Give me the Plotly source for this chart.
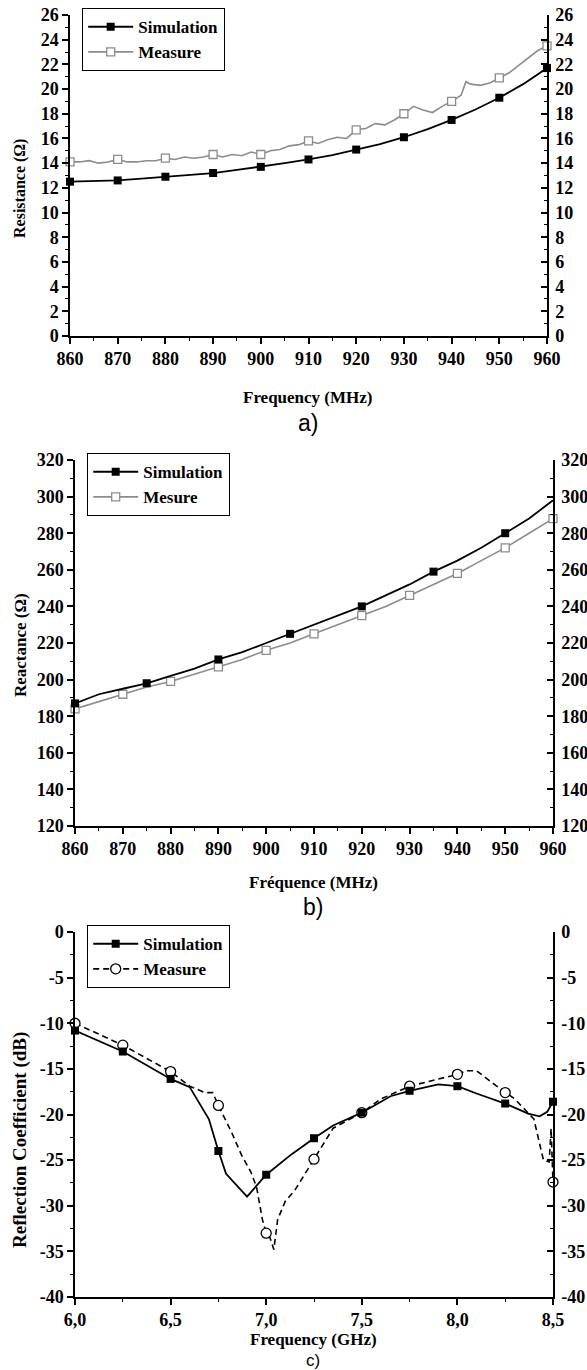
import plotly.graph_objects as go

W, H = 587, 1370

# ---------------- Panel a : Resistance ----------------
res_line_freq = [860, 865, 870, 875, 880, 885, 890, 895, 900, 905, 910, 915, 920,
                 925, 930, 935, 940, 945, 950, 955, 960]
res_sim_line = [12.5, 12.55, 12.6, 12.75, 12.9, 13.05, 13.2, 13.45, 13.7, 14.0, 14.3,
                14.65, 15.1, 15.55, 16.1, 16.75, 17.5, 18.35, 19.3, 20.4, 21.7]
res_mark_freq = [860, 870, 880, 890, 900, 910, 920, 930, 940, 950, 960]
res_sim_mark = [12.5, 12.6, 12.9, 13.2, 13.7, 14.3, 15.1, 16.1, 17.5, 19.3, 21.7]
res_meas_freq = [860, 862, 864, 866, 868, 870, 872, 874, 876, 878, 880, 882, 884, 886,
                 888, 890, 892, 894, 896, 898, 900, 902, 904, 906, 908, 910, 912, 914,
                 916, 918, 920, 922, 924, 926, 928, 930, 932, 934, 936, 938, 940, 942,
                 943, 944, 946, 948, 950, 952, 954, 956, 958, 960]
res_meas_line = [14.1, 14.1, 14.2, 14.0, 14.1, 14.3, 14.1, 14.1, 14.2, 14.2, 14.4, 14.3,
                 14.5, 14.4, 14.5, 14.7, 14.5, 14.7, 14.6, 14.9, 14.7, 15.0, 15.1, 15.4,
                 15.5, 15.8, 15.6, 15.9, 16.1, 16.0, 16.7, 16.8, 17.2, 17.1, 17.5, 18.0,
                 18.6, 18.3, 18.1, 18.6, 19.0, 19.5, 20.6, 20.4, 20.3, 20.5, 20.9, 21.3,
                 21.9, 22.5, 23.1, 23.5]
res_meas_mark = [14.1, 14.3, 14.4, 14.7, 14.7, 15.8, 16.7, 18.0, 19.0, 20.9, 23.5]

# ---------------- Panel b : Reactance ----------------
rea_line_freq = [860, 865, 870, 875, 880, 885, 890, 895, 900, 905, 910, 915, 920,
                 925, 930, 935, 940, 945, 950, 955, 960]
rea_sim_line = [187, 192, 195, 198, 202, 206, 211, 215, 220, 225, 230, 235, 240,
                246, 252, 259, 265, 272, 280, 288, 298]
rea_sim_mark_freq = [860, 875, 890, 905, 920, 935, 950]
rea_sim_mark = [187, 198, 211, 225, 240, 259, 280]
rea_meas_line = [184, 188, 192, 196, 199, 203, 207, 211, 216, 220, 225, 230, 235,
                 240, 246, 252, 258, 265, 272, 280, 288]
rea_meas_mark_freq = [860, 870, 880, 890, 900, 910, 920, 930, 940, 950, 960]
rea_meas_mark = [184, 192, 199, 207, 216, 225, 235, 246, 258, 272, 288]

# ---------------- Panel c : Reflection coefficient ----------------
s11_sim_freq = [6.0, 6.25, 6.5, 6.6, 6.7, 6.75, 6.79, 6.9, 7.0, 7.13, 7.25, 7.35, 7.5,
                7.65, 7.75, 7.9, 8.0, 8.1, 8.25, 8.37, 8.43, 8.47, 8.5]
s11_sim_line = [-10.8, -13.1, -16.1, -17.0, -20.5, -24.0, -26.5, -29.0, -26.6, -24.4,
                -22.6, -21.2, -19.8, -18.0, -17.4, -16.7, -16.9, -17.7, -18.8, -19.9,
                -20.2, -19.7, -18.6]
s11_mark_freq = [6.0, 6.25, 6.5, 6.75, 7.0, 7.25, 7.5, 7.75, 8.0, 8.25, 8.5]
s11_sim_mark = [-10.8, -13.1, -16.1, -24.0, -26.6, -22.6, -19.8, -17.4, -16.9, -18.8, -18.6]
s11_meas_freq = [6.0, 6.25, 6.5, 6.6, 6.68, 6.72, 6.75, 6.82, 6.87, 6.92, 6.95, 6.98,
                 7.0, 7.02, 7.04, 7.06, 7.1, 7.15, 7.25, 7.35, 7.5, 7.6, 7.75, 7.95,
                 8.0, 8.05, 8.1, 8.2, 8.25, 8.3, 8.4, 8.45, 8.48, 8.49, 8.5]
s11_meas_line = [-10.0, -12.4, -15.3, -16.9, -17.6, -17.6, -19.0, -22.0, -24.4, -26.3,
                 -28.0, -31.5, -33.0, -33.5, -34.8, -31.5, -29.5, -28.3, -24.9, -21.5,
                 -19.8, -18.3, -16.9, -15.8, -15.6, -15.2, -15.2, -16.8, -17.6, -18.3,
                 -20.5, -25.0, -25.2, -21.5, -27.4]
s11_meas_mark = [-10.0, -12.4, -15.3, -19.0, -33.0, -24.9, -19.8, -16.9, -15.6, -17.6, -27.4]
s11_ytick_vals = [-40, -35, -30, -25, -20, -15, -10, -5, 0]
s11_ytick_text = ["-40", "-35", "-30", "-25", "-20", "-15", "-10", "-5", "0"]

GRAY = "#8c8c8c"
FONT = "Liberation Serif"


def xd(a, b):
    return [a / W, b / W]


def yd(top, bottom):
    return [1 - bottom / H, 1 - top / H]


fig = go.Figure()


def add_panel(n, xs_line1, y_line1, xs_m1, y_m1, xs_line2, y_line2, xs_m2, y_m2,
              meas_color, meas_symbol, meas_dash, meas_label, meas_msize):
    xa = "x" if n == 1 else f"x{n}"
    ya = "y" if n == 1 else f"y{2 * n - 1}"
    yr = f"y{2 * n}"
    leg = "legend" if n == 1 else f"legend{n}"
    # keep the right-hand mirror axis alive
    fig.add_trace(go.Scatter(x=[None], y=[None], mode="lines", xaxis=xa, yaxis=yr,
                             showlegend=False, hoverinfo="skip"))
    # measure
    fig.add_trace(go.Scatter(x=xs_line2, y=y_line2, mode="lines", xaxis=xa, yaxis=ya,
                             line=dict(color=meas_color, width=1.6, dash=meas_dash),
                             showlegend=False, cliponaxis=False))
    fig.add_trace(go.Scatter(x=xs_m2, y=y_m2, mode="markers", xaxis=xa, yaxis=ya,
                             marker=dict(symbol=meas_symbol, size=meas_msize, color="white",
                                         line=dict(color=meas_color, width=1.3)),
                             showlegend=False, cliponaxis=False))
    # simulation
    fig.add_trace(go.Scatter(x=xs_line1, y=y_line1, mode="lines", xaxis=xa, yaxis=ya,
                             line=dict(color="black", width=1.8),
                             showlegend=False, cliponaxis=False))
    fig.add_trace(go.Scatter(x=xs_m1, y=y_m1, mode="markers", xaxis=xa, yaxis=ya,
                             marker=dict(symbol="square", size=8, color="black"),
                             showlegend=False, cliponaxis=False))
    # legend entries
    fig.add_trace(go.Scatter(x=[None], y=[None], mode="lines+markers", xaxis=xa, yaxis=ya,
                             name="Simulation", legend=leg,
                             line=dict(color="black", width=1.8),
                             marker=dict(symbol="square", size=8, color="black")))
    fig.add_trace(go.Scatter(x=[None], y=[None], mode="lines+markers", xaxis=xa, yaxis=ya,
                             name=meas_label, legend=leg,
                             line=dict(color=meas_color, width=1.6, dash=meas_dash),
                             marker=dict(symbol=meas_symbol, size=meas_msize, color="white",
                                         line=dict(color=meas_color, width=1.3))))


add_panel(1, res_line_freq, res_sim_line, res_mark_freq, res_sim_mark,
          res_meas_freq, res_meas_line, res_mark_freq, res_meas_mark,
          GRAY, "square", "solid", "Measure", 8)
add_panel(2, rea_line_freq, rea_sim_line, rea_sim_mark_freq, rea_sim_mark,
          rea_line_freq, rea_meas_line, rea_meas_mark_freq, rea_meas_mark,
          GRAY, "square", "solid", "Mesure", 8)
add_panel(3, s11_sim_freq, s11_sim_line, s11_mark_freq, s11_sim_mark,
          s11_meas_freq, s11_meas_line, s11_mark_freq, s11_meas_mark,
          "black", "circle", "6px,4px", "Measure", 10)

tickfont = dict(family=FONT, size=18, color="black", weight="bold")
minor_out = dict(ticklen=3, tickwidth=1.2, tickcolor="black", ticks="outside")
minor_in = dict(ticklen=3, tickwidth=1.2, tickcolor="black", ticks="inside")

panels = [
    dict(x=xd(70, 547), y=yd(15, 336), xr=[860, 960], xd=10, xm=5, yr=[0, 26], ydt=2, ym=1, xf=None),
    dict(x=xd(75, 553), y=yd(460, 826), xr=[860, 960], xd=10, xm=5, yr=[120, 320], ydt=20, ym=10, xf=None),
    dict(x=xd(75, 553), y=yd(932, 1297), xr=[6.0, 8.5], xd=0.5, xm=0.25, yr=[-40, 0], ydt=5, ym=2.5, xf=".1f"),
]

axes = {}
for i, p in enumerate(panels, start=1):
    xkey = "xaxis" if i == 1 else f"xaxis{i}"
    ylk = "yaxis" if i == 1 else f"yaxis{2 * i - 1}"
    yrk = f"yaxis{2 * i}"
    ya = "y" if i == 1 else f"y{2 * i - 1}"
    xa = "x" if i == 1 else f"x{i}"
    common = dict(showgrid=False, zeroline=False, showline=True, linecolor="black",
                  linewidth=1.5, ticks="outside", ticklen=6, tickwidth=1.5,
                  tickcolor="black", tickfont=dict(tickfont), automargin=False)
    xax = dict(common, domain=p["x"], range=p["xr"], dtick=p["xd"], tick0=p["xr"][0],
               anchor=ya, minor=dict(minor_out, dtick=p["xm"]))
    if p["xf"]:
        xax["tickformat"] = p["xf"]
    yax = dict(common, domain=p["y"], range=p["yr"], dtick=p["ydt"], tick0=p["yr"][0],
               anchor=xa, minor=dict(minor_out, dtick=p["ym"]))
    if i == 3:
        yax["tickmode"] = "array"
        yax["tickvals"] = s11_ytick_vals
        yax["ticktext"] = s11_ytick_text
    axes[xkey] = xax
    axes[ylk] = yax
    axes[yrk] = dict(yax, overlaying=ya, side="right", ticks="inside",
                     minor=dict(minor_in, dtick=p["ym"]), ticklabelstandoff=3)

titles = [
    ("Resistance (Ω)", 16, 20, 189, "Frequency (MHz)", 308, 397, "a)", 308, 423, "middle"),
    ("Reactance (Ω)", 17, 20, 645, "Fréquence (MHz)", 313, 882, "b)", 313, 907, "middle"),
    ("Reflection Coefficient (dB)", 19, 20, 1140, "Frequency (GHz)", 313, 1339, "c)", 313, 1371, "bottom"),
]
ann = []
for yt, ys, yx, yy, xt, xx, xy, lab, lx, ly, lanc in titles:
    ann.append(dict(text=yt, x=yx / W, y=1 - yy / H, xref="paper", yref="paper",
                    textangle=-90, showarrow=False, xanchor="center", yanchor="middle",
                    font=dict(family=FONT, size=ys, color="black", weight="bold")))
    ann.append(dict(text=xt, x=xx / W, y=1 - xy / H, xref="paper", yref="paper",
                    showarrow=False, xanchor="center", yanchor="middle", borderpad=0,
                    font=dict(family=FONT, size=17, color="black", weight="bold")))
    ann.append(dict(text=lab, x=lx / W, y=1 - ly / H, xref="paper", yref="paper",
                    showarrow=False, xanchor="center", yanchor=lanc, borderpad=0,
                    font=dict(family="Liberation Sans Narrow, Liberation Sans",
                              size=23 if lanc == "middle" else 17,
                              color="black", weight="normal")))

legfont = dict(family=FONT, size=17, color="black", weight="bold")


def legend_at(xp, yp):
    return dict(x=xp / W, y=1 - yp / H, xanchor="left", yanchor="top",
                bordercolor="black", borderwidth=1.2, bgcolor="white",
                font=legfont, tracegroupgap=0, itemwidth=45)


fig.update_layout(
    width=W, height=H, margin=dict(l=0, r=0, t=0, b=0, autoexpand=False),
    paper_bgcolor="white", plot_bgcolor="white",
    font=dict(family=FONT, size=17, color="black", weight="bold"),
    separators=",.",
    annotations=ann,
    legend=legend_at(82, 8),
    legend2=legend_at(87, 453),
    legend3=legend_at(87, 925),
    **axes,
)

fig.write_html("out.html", config={"displayModeBar": False},
               post_script="document.body.style.margin='0';document.body.style.overflow='hidden';")
